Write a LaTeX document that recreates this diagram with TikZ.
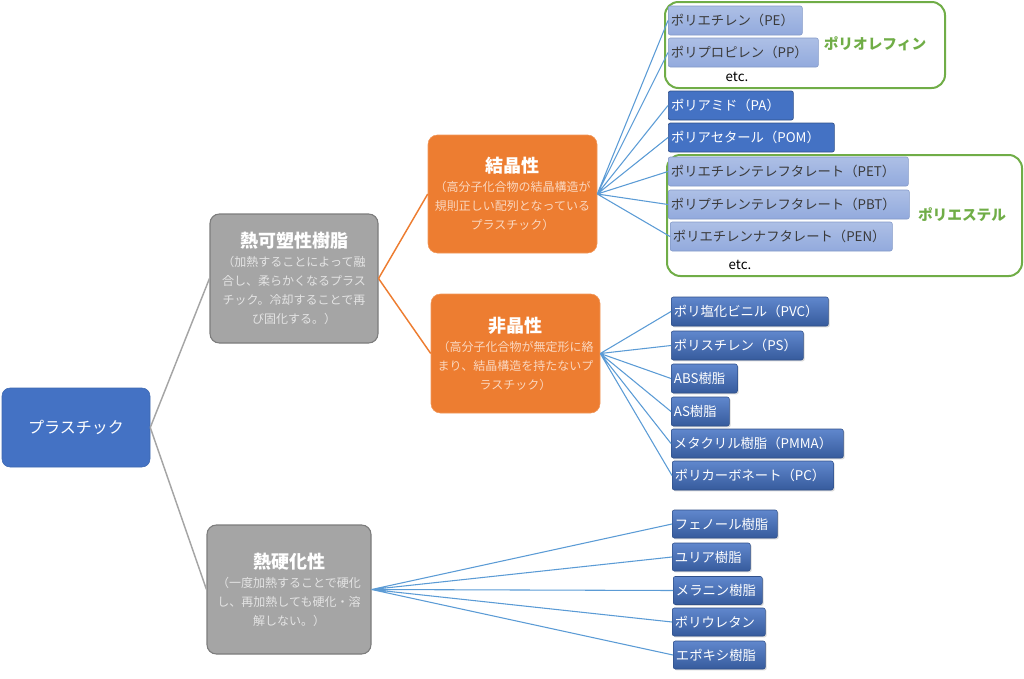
\documentclass[tikz,border=0pt]{standalone}
\usepackage{fontspec}
\setmainfont{Noto Sans CJK JP}
\usetikzlibrary{positioning,shadows}

\definecolor{plblue}{HTML}{4472C4}
\definecolor{plgray}{HTML}{A5A5A5}
\definecolor{plorange}{HTML}{ED7D31}
\definecolor{plgreen}{HTML}{70AD47}
\definecolor{pllink}{HTML}{5B9BD5}
\definecolor{plpale}{HTML}{92AADD}
\definecolor{graytext}{HTML}{E4E4E4}
\definecolor{peachtext}{HTML}{FAD7BF}
\definecolor{darktext}{HTML}{3A3A3A}

\newcommand{\boxhead}[1]{{\color{white}\fontsize{13.5}{18}\selectfont\bfseries #1}}

\begin{document}
\begin{tikzpicture}[x=0.75pt, y=-0.75pt,
    rootbox/.style={rectangle, rounded corners=6pt, fill=plblue, draw=plblue!90!black, text=white, minimum width=111pt, minimum height=59.25pt, font=\fontsize{12}{14}\selectfont},
    graybox/.style={rectangle, rounded corners=7pt, fill=plgray, draw=plgray!75!black, line width=0.8pt, text=graytext, align=center, minimum width=#1, minimum height=96.75pt, font=\fontsize{9}{14.25}\selectfont},
    orangebox/.style={rectangle, rounded corners=7pt, fill=plorange, draw=plorange!80!white, text=peachtext, align=center, minimum width=126.75pt, minimum height=#1, font=\fontsize{9}{14.25}\selectfont},
    paleleaf/.style={rectangle, rounded corners=1.5pt, top color=plpale!75!white, bottom color=plpale, draw=plpale!90!black, line width=0.4pt, text=darktext, anchor=west, minimum height=21.75pt, inner xsep=2pt, inner ysep=0pt, align=left, text width=#1, font=\fontsize{10}{12}\selectfont},
    deepleaf/.style={rectangle, rounded corners=1.5pt, fill=plblue, draw=plblue!70!black, line width=0.5pt, text=white, anchor=west, minimum height=21.75pt, inner xsep=2pt, inner ysep=0pt, align=left, text width=#1, font=\fontsize{10}{12}\selectfont},
    shadeleaf/.style={rectangle, rounded corners=1.5pt, top color=plblue!85!white, bottom color=plblue!80!black, draw=plblue!70!black, line width=0.4pt, text=white, anchor=west, minimum height=21.75pt, inner xsep=2pt, inner ysep=0pt, align=left, text width=#1, font=\fontsize{10}{12}\selectfont, drop shadow={shadow xshift=1pt, shadow yshift=-1pt, opacity=0.3}},
    grayline/.style={draw=plgray, line width=1.1pt},
    orangeline/.style={draw=plorange, line width=1.1pt},
    blueline/.style={draw=pllink, line width=0.8pt},
    groupframe/.style={draw=plgreen, line width=1.5pt, rounded corners=10pt},
    grouplabel/.style={text=plgreen, font=\fontsize{11}{13}\selectfont\bfseries}
]

    \useasboundingbox (0,0) rectangle (1024,678); % page size of the reference

    \draw [groupframe] (665,2) rectangle (945,88); % polyolefin frame
    \draw [groupframe] (667,155) rectangle (1022,276); % polyester frame

    \node [rootbox] (plastic) at (76,427.5) {プラスチック}; % root box
    \node [graybox=126pt] (thermoplastic) at (294,278.5) {\boxhead{熱可塑性樹脂}\\（加熱することによって融\\合し、柔らかくなるプラス\\チック。冷却することで再\\び固化する。）}; % upper gray box
    \node [graybox=123pt] (thermoset) at (289,589.5) {\boxhead{熱硬化性}\\（一度加熱することで硬化\\し、再加熱しても硬化・溶\\解しない。）}; % lower gray box
    \node [orangebox=88.5pt] (crystal) at (512.5,194) {\boxhead{結晶性}\\（高分子化合物の結晶構造が\\規則正しい配列となっている\\プラスチック）}; % upper orange box
    \node [orangebox=89.25pt] (amorphous) at (515.5,353.5) {\boxhead{非晶性}\\（高分子化合物が無定形に絡\\まり、結晶構造を持たないプ\\ラスチック）}; % lower orange box

    % crystalline leaves
    \node [paleleaf=96.5pt] (pe) at (668,20.5) {ポリエチレン（PE）};
    \node [paleleaf=108.5pt, below=24pt of pe.west, anchor=west] (pp) {ポリプロピレン（PP）};
    \node [deepleaf=89.75pt, below=39.75pt of pp.west, anchor=west] (pa) {ポリアミド（PA）};
    \node [deepleaf=120.5pt, below=24pt of pa.west, anchor=west] (pom) {ポリアセタール（POM）};
    \node [paleleaf=176pt, below=25.5pt of pom.west, anchor=west] (pet) {ポリエチレンテレフタレート（PET）};
    \node [paleleaf=176.75pt, below=24.75pt of pet.west, anchor=west] (pbt) {ポリプチレンテレフタレート（PBT）};
    \node [paleleaf=162.5pt, below=24pt of pbt.west, anchor=west, xshift=1.5pt] (pen) {ポリエチレンナフタレート（PEN）};

    \node [grouplabel] (olefin) at (875,44) {ポリオレフィン}; % green label of top frame
    \node [grouplabel] (ester) at (962,215) {ポリエステル}; % green label of bottom frame
    \node [font=\fontsize{10}{12}\selectfont] (etcolefin) at (737,77) {etc.};
    \node [font=\fontsize{10}{12}\selectfont] (etcester) at (740,265) {etc.};

    % amorphous leaves
    \node [shadeleaf=113.75pt] (pvc) at (671,311.5) {ポリ塩化ビニル（PVC）};
    \node [shadeleaf=95pt, below=25.5pt of pvc.west, anchor=west] (ps) {ポリスチレン（PS）};
    \node [shadeleaf=45.5pt, below=24.75pt of ps.west, anchor=west] (abs) {ABS樹脂};
    \node [shadeleaf=39.5pt, below=24.75pt of abs.west, anchor=west] (as) {AS樹脂};
    \node [shadeleaf=125pt, below=24pt of as.west, anchor=west] (pmma) {メタクリル樹脂（PMMA）};
    \node [shadeleaf=116.75pt, below=24pt of pmma.west, anchor=west, xshift=0.75pt] (pc) {ポリカーボネート（PC）};

    % thermoset leaves
    \node [shadeleaf=74.75pt, minimum height=21pt] (phenol) at (672,524) {フェノール樹脂};
    \node [shadeleaf=54.5pt, minimum height=21pt, below=24.75pt of phenol.west, anchor=west] (urea) {ユリア樹脂};
    \node [shadeleaf=62.75pt, minimum height=21pt, below=25.125pt of urea.west, anchor=west, xshift=0.75pt] (melamine) {メラニン樹脂};
    \node [shadeleaf=65.75pt, minimum height=21pt, below=23.625pt of melamine.west, anchor=west, xshift=-0.75pt] (urethane) {ポリウレタン};
    \node [shadeleaf=65pt, minimum height=21pt, below=24.75pt of urethane.west, anchor=west, xshift=0.75pt] (epoxy) {エポキシ樹脂};

    % connectors
    \draw [grayline] (plastic.east) -- (thermoplastic.west);
    \draw [grayline] (plastic.east) -- (thermoset.west);
    \draw [orangeline] (thermoplastic.east) -- (crystal.west);
    \draw [orangeline] (thermoplastic.east) -- (amorphous.west);
    \draw [blueline] (crystal.east) -- (pe.west) (crystal.east) -- (pp.west) (crystal.east) -- (pa.west) (crystal.east) -- (pom.west) (crystal.east) -- (pet.west) (crystal.east) -- (pbt.west) (crystal.east) -- (pen.west);
    \draw [blueline] (amorphous.east) -- (pvc.west) (amorphous.east) -- (ps.west) (amorphous.east) -- (abs.west) (amorphous.east) -- (as.west) (amorphous.east) -- (pmma.west) (amorphous.east) -- (pc.west);
    \draw [blueline] (thermoset.east) -- (phenol.west) (thermoset.east) -- (urea.west) (thermoset.east) -- (melamine.west) (thermoset.east) -- (urethane.west) (thermoset.east) -- (epoxy.west);

\end{tikzpicture}
\end{document}
